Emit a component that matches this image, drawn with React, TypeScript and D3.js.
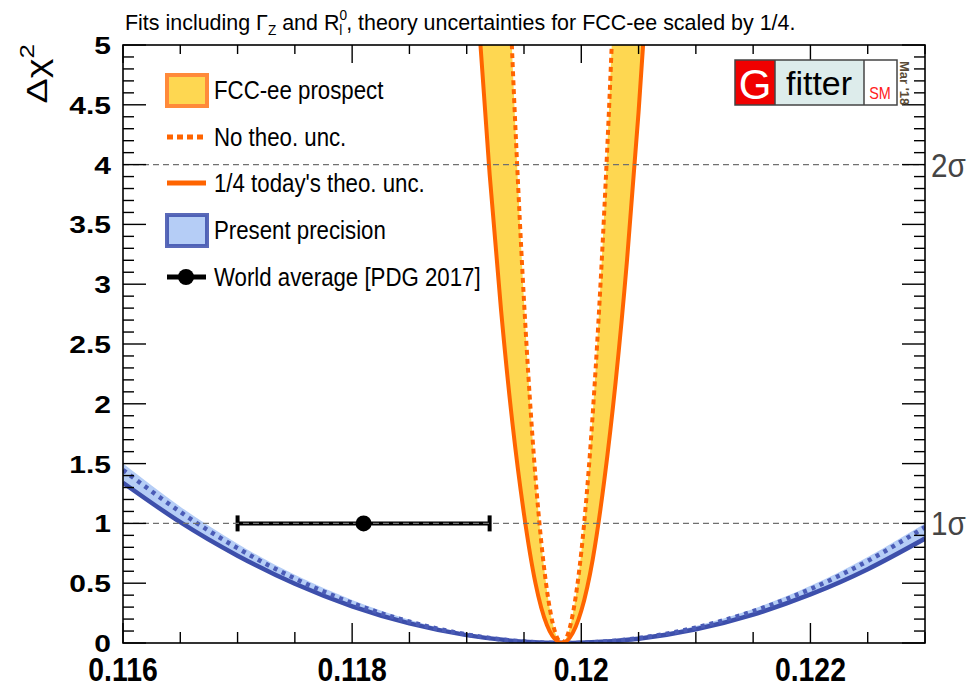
import React from 'react';
import * as d3 from 'd3';

const W = 978;
const H = 692;
const FONT = "'Liberation Sans', Arial, Helvetica, sans-serif";

// ---- axes ----
const xDomain = [0.116, 0.123];
const yDomain = [0, 5];
const xMajorTicks = [0.116, 0.118, 0.12, 0.122];
const xTickLabels = ['0.116', '0.118', '0.12', '0.122'];
const yMajorTicks = [0, 0.5, 1, 1.5, 2, 2.5, 3, 3.5, 4, 4.5, 5];
const yTickLabels = ['0', '0.5', '1', '1.5', '2', '2.5', '3', '3.5', '4', '4.5', '5'];

// ---- present precision (blue) ----
const blueX = [0.116, 0.1165, 0.117, 0.1175, 0.118, 0.1185, 0.119, 0.1195, 0.12, 0.1205, 0.121, 0.1215, 0.122, 0.1225, 0.123];
const blueWithTheo = [1.34, 1.01, 0.73, 0.495, 0.307, 0.164, 0.066, 0.011, 0.002, 0.036, 0.115, 0.238, 0.406, 0.617, 0.873];
const blueNoTheo = [1.447, 1.096, 0.793, 0.539, 0.334, 0.178, 0.071, 0.012, 0.002, 0.041, 0.129, 0.266, 0.451, 0.686, 0.969];
const blueBandUpper = [1.5, 1.14, 0.83, 0.57, 0.36, 0.195, 0.08, 0.016, 0.003, 0.047, 0.142, 0.285, 0.478, 0.72, 1.0];

// ---- FCC-ee prospect (orange) ----
const fccTheoX = [0.119, 0.1191, 0.1192, 0.1193, 0.1194, 0.1195, 0.1196, 0.1197, 0.1198, 0.1199, 0.12, 0.1201, 0.1202, 0.1203, 0.1204, 0.1205, 0.1206, 0.1207];
const fccTheo = [6.81, 5.27, 3.92, 2.78, 1.83, 1.077, 0.5, 0.15, 0.009, 0.045, 0.27, 0.7, 1.354, 2.185, 3.21, 4.44, 5.86, 7.49];
const fccNoTheoX = [0.11935, 0.1194, 0.11945, 0.1195, 0.11955, 0.1196, 0.11965, 0.1197, 0.11975, 0.1198, 0.11985, 0.1199, 0.11995, 0.12, 0.12005, 0.1201, 0.12015, 0.1202, 0.12025, 0.1203];
const fccNoTheo = [6.06, 4.86, 3.8, 2.86, 2.06, 1.39, 0.852, 0.444, 0.168, 0.024, 0.011, 0.129, 0.379, 0.76, 1.273, 1.917, 2.693, 3.6, 4.64, 5.81];

// ---- world average ----
const pdgCentral = 0.1181;
const pdgLow = 0.117;
const pdgHigh = 0.1192;
const pdgChi2 = 1;

// ---- sigma lines ----
const sigmaLevels = [1, 4];
const sigmaLabels = ['1σ', '2σ'];

// ---- legend ----
const legendLabels = ['FCC-ee prospect', 'No theo. unc.', "1/4 today's theo. unc.", 'Present precision', 'World average [PDG 2017]'];

const C = {
  yellow: '#fed751',
  orange: '#ff6400',
  orangeBorder: '#ff8a3a',
  blueFill: '#b5cdf6',
  blueLine: '#3d4fab',
  blueDot: '#4b5cb7',
  dash: '#707070',
};

const M = { left: 123, right: 925, top: 45, bottom: 643 };

type TxtProps = {
  x: number; y: number; sx?: number; size: number; anchor?: string; weight?: string | number;
  fill?: string; rotate?: number; family?: string; children?: React.ReactNode;
};
const Txt = ({ x, y, sx = 1, size, anchor = 'start', weight = 'normal', fill = '#000', rotate = 0, family = FONT, children }: TxtProps) => (
  <text
    transform={`translate(${x},${y}) rotate(${rotate}) scale(${sx},1)`}
    fontSize={size}
    textAnchor={anchor as any}
    fontWeight={weight as any}
    fill={fill}
    fontFamily={family}
  >
    {children}
  </text>
);

export default function App() {
  const x = d3.scaleLinear().domain(xDomain).range([M.left, M.right]);
  const y = d3.scaleLinear().domain(yDomain).range([M.bottom, M.top]);

  const lineOf = (xs: number[], ys: number[]) =>
    d3.line<number>().x((_, i) => x(xs[i])).y((d) => y(d)).curve(d3.curveNatural)(ys) || '';
  const aboveArea = (xs: number[], ys: number[]) =>
    d3.area<number>().x((_, i) => x(xs[i])).y0(y(10)).y1((d) => y(d)).curve(d3.curveNatural)(ys) || '';
  const bandArea = d3
    .area<number>()
    .x((_, i) => x(blueX[i]))
    .y0((d) => y(d))
    .y1((_, i) => y(blueBandUpper[i]))
    .curve(d3.curveNatural)(blueWithTheo) || '';

  const xMinor = x.ticks(14);
  const yMinor = y.ticks(50);
  const isXMajor = (v: number) => xMajorTicks.some((m) => Math.abs(m - v) < 1e-7);
  const isYMajor = (v: number) => yMajorTicks.some((m) => Math.abs(m - v) < 1e-7);

  const legX = 165;
  const legRows = [90, 137, 183, 230, 277];

  return (
    <svg width={W} height={H} style={{ position: 'absolute', left: 0, top: 0, background: '#fff' }} xmlns="http://www.w3.org/2000/svg">
      <defs>
        <clipPath id="plotClip">
          <rect x={M.left} y={M.top} width={M.right - M.left} height={M.bottom - M.top} />
        </clipPath>
      </defs>
      <rect x={0} y={0} width={W} height={H} fill="#fff" />

      <g clipPath="url(#plotClip)">
        {/* FCC band: yellow inside the theo curve, white inside the no-theo curve */}
        <path d={aboveArea(fccTheoX, fccTheo)} fill={C.yellow} />
        <path d={aboveArea(fccNoTheoX, fccNoTheo)} fill="#fff" />

        {/* Present precision band */}
        <path d={bandArea} fill={C.blueFill} />
        <path d={lineOf(blueX, blueWithTheo)} fill="none" stroke={C.blueLine} strokeWidth={4.5} />
        <path d={lineOf(blueX, blueNoTheo)} fill="none" stroke={C.blueDot} strokeWidth={4.5} strokeDasharray="4 5" />

        {/* FCC lines */}
        <path d={lineOf(fccTheoX, fccTheo)} fill="none" stroke={C.orange} strokeWidth={4} />
        <path d={lineOf(fccNoTheoX, fccNoTheo)} fill="none" stroke={C.orange} strokeWidth={4} strokeDasharray="5 4" />

        {/* PDG world average */}
        <line x1={x(pdgLow)} x2={x(pdgHigh)} y1={y(pdgChi2)} y2={y(pdgChi2)} stroke="#000" strokeWidth={4} />
        <line x1={x(pdgLow)} x2={x(pdgLow)} y1={y(pdgChi2) - 8} y2={y(pdgChi2) + 8} stroke="#000" strokeWidth={4} />
        <line x1={x(pdgHigh)} x2={x(pdgHigh)} y1={y(pdgChi2) - 8} y2={y(pdgChi2) + 8} stroke="#000" strokeWidth={4} />

        {/* sigma lines */}
        {sigmaLevels.map((s) => (
          <line key={s} x1={M.left} x2={M.right} y1={y(s)} y2={y(s)} stroke={C.dash} strokeWidth={1.3} strokeDasharray="6 4" />
        ))}
        <circle cx={x(pdgCentral)} cy={y(pdgChi2)} r={8} fill="#000" />
      </g>

      {/* frame */}
      <rect x={M.left} y={M.top} width={M.right - M.left} height={M.bottom - M.top} fill="none" stroke="#000" strokeWidth={1.6} />

      {/* ticks */}
      {xMinor.map((v) => {
        const len = isXMajor(v) ? 20 : 11;
        return (
          <g key={'xt' + v}>
            <line x1={x(v)} x2={x(v)} y1={M.bottom} y2={M.bottom - len} stroke="#000" strokeWidth={1.4} />
            <line x1={x(v)} x2={x(v)} y1={M.top} y2={M.top + len - 2} stroke="#000" strokeWidth={1.4} />
          </g>
        );
      })}
      {yMinor.map((v) => {
        const len = isYMajor(v) ? 23 : 11;
        return (
          <g key={'yt' + v}>
            <line x1={M.left} x2={M.left + len} y1={y(v)} y2={y(v)} stroke="#000" strokeWidth={1.4} />
            <line x1={M.right} x2={M.right - len} y1={y(v)} y2={y(v)} stroke="#000" strokeWidth={1.4} />
          </g>
        );
      })}

      {/* tick labels */}
      {xMajorTicks.map((v, i) => (
        <Txt key={'xl' + v} x={x(v)} y={681} size={33} sx={0.86} anchor="middle" weight="bold">
          {xTickLabels[i]}
        </Txt>
      ))}
      {yMajorTicks.map((v, i) => (
        <Txt key={'yl' + v} x={111} y={y(v) + 9} size={24} sx={1.25} anchor="end" weight="bold">
          {yTickLabels[i]}
        </Txt>
      ))}

      {/* axis title */}
      <Txt x={47} y={44} size={29} rotate={-90} anchor="end" sx={1.3}>
        Δχ<tspan fontSize={20} dy={-13}>2</tspan>
      </Txt>

      {/* sigma labels */}
      {sigmaLevels.map((s, i) => (
        <Txt key={'sl' + s} x={931} y={y(s) + 12} size={33} sx={0.9} fill="#454545">
          {sigmaLabels[i]}
        </Txt>
      ))}

      {/* title */}
      <Txt x={125} y={30} size={22} sx={0.975}>
        Fits including Γ<tspan fontSize={14} dy={5}>Z</tspan>
        <tspan dy={-5}> and R</tspan>
        <tspan fontSize={14} dy={-10}>0</tspan>
        <tspan fontSize={14} dx={-8} dy={15}>l</tspan>
        <tspan dy={-5} dx={4}>, theory uncertainties for FCC-ee scaled by 1/4.</tspan>
      </Txt>

      {/* legend */}
      <rect x={legX + 2} y={legRows[0] - 15} width={40} height={31} fill={C.yellow} stroke={C.orangeBorder} strokeWidth={4} />
      <line x1={legX + 2} x2={legX + 41} y1={legRows[1]} y2={legRows[1]} stroke={C.orange} strokeWidth={5} strokeDasharray="6 4" />
      <line x1={legX + 2} x2={legX + 41} y1={legRows[2]} y2={legRows[2]} stroke={C.orange} strokeWidth={5} />
      <rect x={legX + 2} y={legRows[3] - 15} width={40} height={31} fill={C.blueFill} stroke={C.blueLine} strokeOpacity={0.85} strokeWidth={4} />
      <line x1={legX + 2} x2={legX + 41} y1={legRows[4]} y2={legRows[4]} stroke="#000" strokeWidth={5} />
      <circle cx={legX + 21} cy={legRows[4]} r={8} fill="#000" />
      {legendLabels.map((t, i) => (
        <Txt key={'lg' + i} x={214} y={legRows[i] + 9} size={25} sx={0.89}>
          {t}
        </Txt>
      ))}

      {/* Gfitter logo */}
      <g>
        <rect x={735} y={60} width={40} height={45} fill="#f00000" />
        <rect x={775} y={60} width={89} height={45} fill="#ddeceb" />
        <rect x={864} y={60} width={33} height={45} fill="#fff" />
        <rect x={735} y={60} width={162} height={45} fill="none" stroke="#444" strokeWidth={1.5} />
        <line x1={775} x2={775} y1={60} y2={105} stroke="#444" strokeWidth={1.5} />
        <line x1={864} x2={864} y1={60} y2={105} stroke="#444" strokeWidth={1.5} />
        <Txt x={755} y={99} size={42} anchor="middle" fill="#fff">G</Txt>
        <Txt x={819} y={95} size={34} anchor="middle" fill="#000">fitter</Txt>
        <Txt x={880} y={99} size={16} anchor="middle" sx={0.9} fill="#ff2020">SM</Txt>
        <Txt x={900} y={61} size={13} rotate={90} weight="bold" fill="#5a4b36">Mar '18</Txt>
      </g>
    </svg>
  );
}
